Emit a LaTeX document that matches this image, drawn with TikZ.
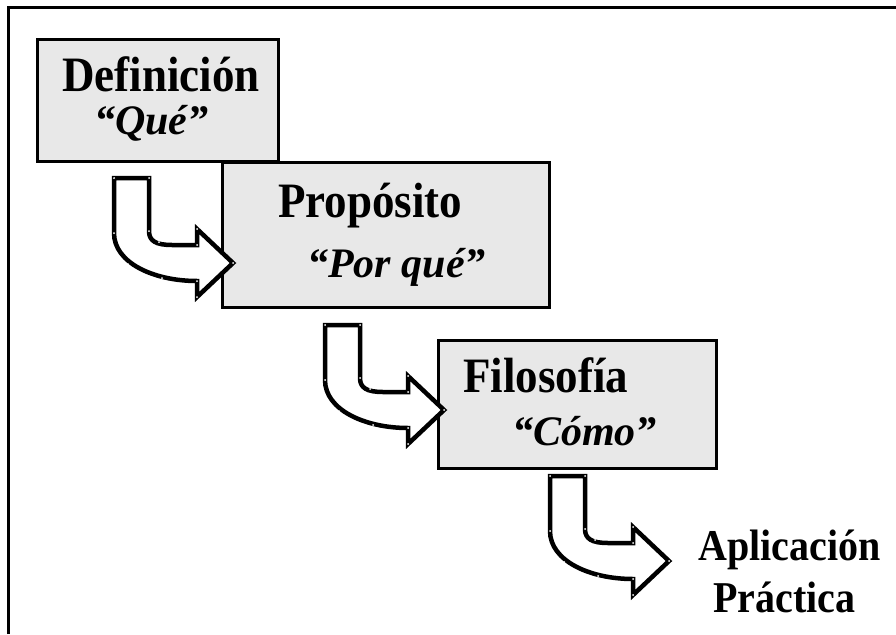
\documentclass[tikz,border=0pt]{standalone}
\usepackage{fontspec}
\setmainfont{Liberation Serif}
\definecolor{boxgray}{RGB}{232,232,232}
\newcommand{\tallt}[1]{\scalebox{1}[1.1]{#1}}
\tikzset{
  stagebox/.style={draw=black, line width=3pt, fill=boxgray},
  arrowline/.style={draw=black, line width=4.5pt, fill=white, line join=miter},
  bigtxt/.style={inner sep=0pt, anchor=base west, text depth=0pt, font=\fontsize{45}{50}\selectfont\bfseries},
  quotetxt/.style={inner sep=0pt, anchor=base west, text height=28pt, font=\fontsize{42}{46}\selectfont\bfseries\itshape},
  apptxt/.style={inner sep=0pt, anchor=base west, text height=30pt, text depth=0pt, font=\fontsize{40}{46}\selectfont\bfseries},
  handle/.style={fill=white, draw=none},
  bentarrow/.pic={
    \path[arrowline] (0,0) -- (35,0) -- (35,53) .. controls (35,63) and (42,67) .. (58,67)
      -- (83,67) -- (83,51) -- (119,85) -- (83,119) -- (83,103)
      .. controls (40,103) and (0,85) .. (0,55) -- cycle;
    \foreach \p in {(0,0),(35,0),(35,53),(83,67),(83,51),(119,85),(83,119),(83,103),(0,55),(14,86),(48,100),(45,64)}
      \fill[handle] \p circle (1pt);
  }
}
\begin{document}
\begin{tikzpicture}[x=1pt,y=-1pt]
\useasboundingbox (0,0) rectangle (896,634);
% outer frame (top and left edges visible)
\draw[line width=3pt] (8,634) -- (8,8) -- (896,8);
% boxes
\draw[stagebox] (222,162) rectangle (549,307);
\draw[stagebox] (37,40) rectangle (278,161);
\draw[stagebox] (438,340) rectangle (716,468);
% texts
\node[bigtxt] (def) at (62,91) {\tallt{Definición}};
\node[quotetxt] (que) at (94,134) {“Qué”};
\node[bigtxt] (prop) at (278,217) {\tallt{Propósito}};
\node[quotetxt] (porque) at (307,277) {“Por qué”};
\node[bigtxt] (filo) at (463,392) {\tallt{Filosofía}};
\node[quotetxt] (como) at (512,445) {“Cómo”};
\node[apptxt] (apl) at (698,560) {\tallt{Aplicación}};
\node[apptxt] (prac) at (713,612) {\tallt{Práctica}};
% bent arrows
\pic at (114,178) {bentarrow};
\pic at (325,325) {bentarrow};
\pic at (550,476) {bentarrow};
\end{tikzpicture}
\end{document}
